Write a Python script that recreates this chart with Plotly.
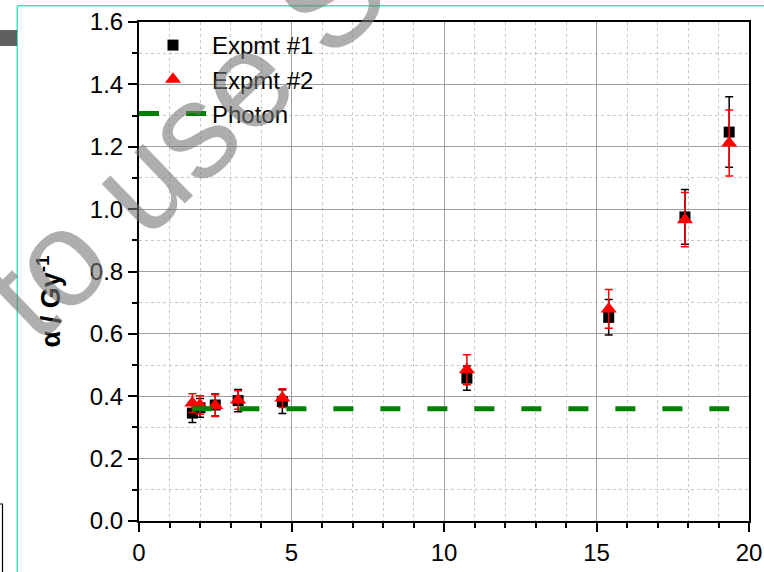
import plotly.graph_objects as go

# ---- data ----
x_let = [1.75, 2.0, 2.5, 3.25, 4.7, 10.75, 15.4, 17.9, 19.35]
expmt1_alpha = [0.346, 0.363, 0.372, 0.386, 0.383, 0.458, 0.653, 0.975, 1.247]
expmt1_err = [0.030, 0.030, 0.035, 0.036, 0.038, 0.039, 0.057, 0.088, 0.113]
expmt2_alpha = [0.378, 0.372, 0.370, 0.388, 0.394, 0.485, 0.680, 0.966, 1.212]
expmt2_err = [0.030, 0.030, 0.035, 0.030, 0.030, 0.048, 0.062, 0.087, 0.106]
photon_x = [1.75, 19.35]
photon_alpha = [0.36, 0.36]

x_tick_vals = [0, 5, 10, 15, 20]
y_tick_vals = [0.0, 0.2, 0.4, 0.6, 0.8, 1.0, 1.2, 1.4, 1.6]

FONT = "Arial, Liberation Sans, sans-serif"
W, H = 764, 572
ML, MR, MT, MB = 139, 15, 22, 51
PW, PH = W - ML - MR, H - MT - MB


def px(xpix):
    return (xpix - ML) / PW


def py(ypix):
    return (H - MB - ypix) / PH


fig = go.Figure()

fig.add_trace(go.Scatter(
    x=x_let, y=expmt1_alpha, mode="markers", name="Expmt #1",
    marker=dict(symbol="square", size=11, color="black"),
    error_y=dict(type="data", array=expmt1_err, visible=True,
                 color="black", thickness=1.5, width=4),
))
fig.add_trace(go.Scatter(
    x=x_let, y=expmt2_alpha, mode="markers", name="Expmt #2",
    marker=dict(symbol="triangle-up", size=14, color="#ff0000"),
    error_y=dict(type="data", array=expmt2_err, visible=True,
                 color="#ff0000", thickness=1.5, width=4),
))
fig.add_trace(go.Scatter(
    x=photon_x, y=photon_alpha, mode="lines", name="Photon",
    line=dict(color="#008000", width=5, dash="20px,27px"),
))

axis_common = dict(
    showline=True, linewidth=2, linecolor="black", mirror=True,
    ticks="outside", ticklen=9, tickwidth=2, tickcolor="black",
    showgrid=True, gridcolor="#a0a0a0", gridwidth=1,
    zeroline=False, automargin=False,
    tickfont=dict(family=FONT, size=24, color="black"),
)

fig.update_xaxes(
    range=[0, 20], tickvals=x_tick_vals,
    minor=dict(dtick=1, tick0=0, ticks="outside", ticklen=5, tickwidth=2,
               tickcolor="black", showgrid=True, gridcolor="#c8c8c8",
               griddash="dot", gridwidth=1),
    **axis_common,
)
fig.update_yaxes(
    range=[0, 1.6], tickvals=y_tick_vals, tickformat=".1f",
    minor=dict(dtick=0.1, tick0=0, ticks="outside", ticklen=5, tickwidth=2,
               tickcolor="black", showgrid=True, gridcolor="#c8c8c8",
               griddash="dot", gridwidth=1),
    title=dict(text="<b>α / Gy<sup>-1</sup></b>" + "&nbsp;" * 8,
               font=dict(family=FONT, size=27, color="black"), standoff=21),
    **axis_common,
)

teal = "#3de3bc"
fig.update_layout(
    width=W, height=H,
    margin=dict(l=ML, r=MR, t=MT, b=MB, autoexpand=False),
    paper_bgcolor="white", plot_bgcolor="white",
    font=dict(family=FONT, size=24, color="black"),
    legend=dict(x=px(134), y=py(23), xanchor="left", yanchor="top",
                bgcolor="rgba(0,0,0,0)", font=dict(family=FONT, size=24),
                itemwidth=68, tracegroupgap=0),
    shapes=[
        dict(type="line", xref="paper", yref="paper",
             x0=px(17.3), x1=px(17.3), y0=py(5.7), y1=py(H + 5),
             line=dict(color=teal, width=1.5)),
        dict(type="line", xref="paper", yref="paper",
             x0=px(17.3), x1=px(W + 5), y0=py(5.7), y1=py(5.7),
             line=dict(color=teal, width=1.5)),
        dict(type="rect", xref="paper", yref="paper",
             x0=px(-5), x1=px(17), y0=py(46), y1=py(30),
             fillcolor="#606060", line=dict(width=0)),
        dict(type="rect", xref="paper", yref="paper",
             x0=px(-10), x1=px(2.5), y0=py(H + 10), y1=py(504),
             line=dict(color="black", width=1.2)),
    ],
    annotations=[
        dict(text="to use S", xref="paper", yref="paper",
             x=px(183), y=py(140), xanchor="center", yanchor="middle",
             showarrow=False, textangle=-44,
             font=dict(family=FONT, size=136, color="rgba(120,120,120,0.6)")),
    ],
)

fig.write_html("out.html", config={"displayModeBar": False},
               post_script="document.body.style.margin='0';")
